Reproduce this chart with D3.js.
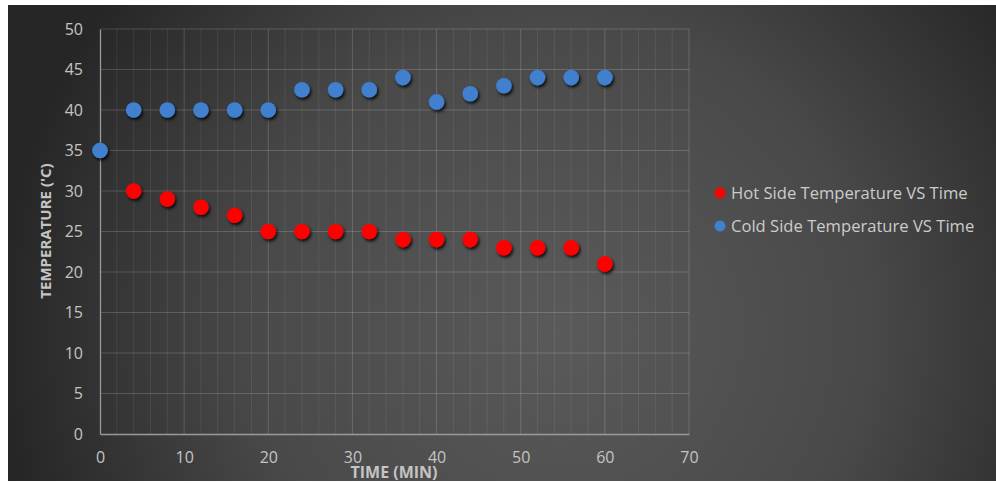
<!DOCTYPE html>
<html>
<head>
<meta charset="utf-8">
<script src="https://cdn.jsdelivr.net/npm/d3@7"></script>
<style>
  html, body { margin: 0; padding: 0; background: #ffffff; }
  svg { display: block; }
  text { font-family: "Open Sans", "Noto Sans", sans-serif; }
</style>
</head>
<body>
<script>
// Sampling times (minutes)
const hotTimes = [4, 8, 12, 16, 20, 24, 28, 32, 36, 40, 44, 48, 52, 56, 60];
const hotTemps = [30, 29, 28, 27, 25, 25, 25, 25, 24, 24, 24, 23, 23, 23, 21];
const coldTimes = [0, 4, 8, 12, 16, 20, 24, 28, 32, 36, 40, 44, 48, 52, 56, 60];
const coldTemps = [35, 40, 40, 40, 40, 40, 42.5, 42.5, 42.5, 44, 41, 42, 43, 44, 44, 44];

const xTicks = [0, 10, 20, 30, 40, 50, 60, 70];
const yTicks = [0, 5, 10, 15, 20, 25, 30, 35, 40, 45, 50];
const xMinorTicks = d3.range(0, 71, 2);

const seriesNames = ["Hot Side Temperature VS Time", "Cold Side Temperature VS Time"];
const seriesColors = ["#ff0000", "#3f80cf"];

const W = 996, H = 483;
const svg = d3.select("body").append("svg").attr("width", W).attr("height", H);

const defs = svg.append("defs");
const grad = defs.append("radialGradient")
  .attr("id", "bg").attr("gradientUnits", "userSpaceOnUse")
  .attr("cx", 560).attr("cy", 330).attr("r", 560);
grad.append("stop").attr("offset", "0").attr("stop-color", "#5a5a5a");
grad.append("stop").attr("offset", "0.55").attr("stop-color", "#494949");
grad.append("stop").attr("offset", "1").attr("stop-color", "#262626");

const shadow = defs.append("filter").attr("id", "shadow")
  .attr("x", "-50%").attr("y", "-50%").attr("width", "200%").attr("height", "200%");
shadow.append("feDropShadow").attr("dx", 1.5).attr("dy", 2.2).attr("stdDeviation", 1.8)
  .attr("flood-color", "#000").attr("flood-opacity", 0.85);

// chart background
svg.append("rect").attr("x", 8).attr("y", 5).attr("width", W - 8).attr("height", 476)
  .attr("fill", "url(#bg)");

const x = d3.scaleLinear().domain([0, 70]).range([100, 689]);
const y = d3.scaleLinear().domain([0, 50]).range([434, 29]);

// minor vertical gridlines
svg.append("g").selectAll("line").data(xMinorTicks.filter(d => d % 10 !== 0)).join("line")
  .attr("x1", d => x(d)).attr("x2", d => x(d))
  .attr("y1", y(50)).attr("y2", y(0))
  .attr("stroke", "#ffffff").attr("stroke-opacity", 0.08).attr("stroke-width", 1);

// major vertical gridlines
svg.append("g").selectAll("line").data(xTicks.filter(d => d > 0)).join("line")
  .attr("x1", d => x(d)).attr("x2", d => x(d))
  .attr("y1", y(50)).attr("y2", y(0))
  .attr("stroke", "#ffffff").attr("stroke-opacity", 0.17).attr("stroke-width", 1);

// horizontal gridlines
svg.append("g").selectAll("line").data(yTicks.filter(d => d > 0)).join("line")
  .attr("x1", x(0)).attr("x2", x(70))
  .attr("y1", d => y(d)).attr("y2", d => y(d))
  .attr("stroke", "#ffffff").attr("stroke-opacity", 0.17).attr("stroke-width", 1);

// axes
const xAxis = svg.append("g").attr("transform", `translate(0,${y(0)})`)
  .call(d3.axisBottom(x).tickValues(xTicks).tickSize(0).tickPadding(18));
const yAxis = svg.append("g").attr("transform", `translate(${x(0)},0)`)
  .call(d3.axisLeft(y).tickValues(yTicks).tickSize(0).tickPadding(17));
[xAxis, yAxis].forEach(g => {
  g.select(".domain").attr("stroke", "#9a9a9a").attr("stroke-width", 1.3);
  g.selectAll("text").attr("fill", "#c4c4c4").attr("font-size", 16);
});

// axis titles
svg.append("text").attr("x", 394).attr("y", 478).attr("text-anchor", "middle")
  .attr("font-size", 16).attr("font-weight", "bold").attr("fill", "#c4c4c4")
  .text("TIME (MIN)");
svg.append("text").attr("transform", "translate(51,231) rotate(-90)")
  .attr("text-anchor", "middle")
  .attr("font-size", 15).attr("font-weight", "bold").attr("fill", "#c4c4c4")
  .text("TEMPERATURE ('C)");

// markers
const hot = hotTimes.map((t, i) => ({ t, v: hotTemps[i] }));
const cold = coldTimes.map((t, i) => ({ t, v: coldTemps[i] }));
[[hot, 0], [cold, 1]].forEach(([data, k]) => {
  svg.append("g").selectAll("circle").data(data).join("circle")
    .attr("cx", d => x(d.t)).attr("cy", d => y(d.v)).attr("r", 7.8)
    .attr("fill", seriesColors[k]).attr("filter", "url(#shadow)");
});

// legend
const legend = svg.append("g").selectAll("g").data(seriesNames).join("g")
  .attr("transform", (d, i) => `translate(720,${193 + i * 33})`);
legend.append("circle").attr("r", 5.5).attr("fill", (d, i) => seriesColors[i]);
legend.append("text").attr("x", 11).attr("dy", "0.35em")
  .attr("font-size", 16.6).attr("fill", "#cccccc").text(d => d);
</script>
</body>
</html>
